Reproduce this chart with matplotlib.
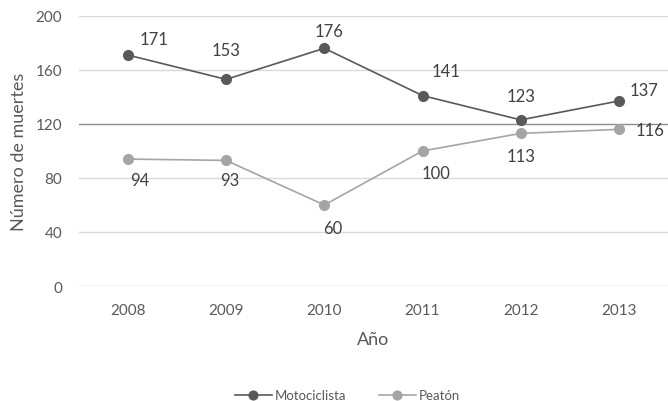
import matplotlib
matplotlib.use('Agg')
import matplotlib.pyplot as plt

# datos
years = ['2008', '2009', '2010', '2011', '2012', '2013']
moto = [171, 153, 176, 141, 123, 137]
peaton = [94, 93, 60, 100, 113, 116]
yticks = [0, 40, 80, 120, 160, 200]

# desplazamiento de etiquetas (pixeles)
moto_off = [(26, 16), (0, 29), (5, 17), (24, 25), (0, 24), (25, 11)]
peaton_off = [(12, -21), (4, -20), (8, -23), (14, -22), (0, -23), (31, -1)]

plt.rcParams['font.family'] = ['Lato', 'DejaVu Sans']

fig = plt.figure(figsize=(6.68, 4.02), dpi=100)
ax = fig.add_axes([0.118, 0.286, 0.882, 0.672])

x = list(range(len(years)))
ax.plot(x, moto, color='#595959', lw=1.2, marker='o', ms=7, label='Motociclista', zorder=3)
ax.plot(x, peaton, color='#a5a5a5', lw=1.2, marker='o', ms=7, label='Peatón', zorder=3)

for i, v in enumerate(moto):
    ax.annotate(str(v), (x[i], v), xytext=moto_off[i], textcoords='offset pixels',
                ha='center', va='center', fontsize=12, color='#404040')
for i, v in enumerate(peaton):
    ax.annotate(str(v), (x[i], v), xytext=peaton_off[i], textcoords='offset pixels',
                ha='center', va='center', fontsize=12, color='#404040')

ax.set_xlim(-0.5, len(years) - 0.5)
ax.set_ylim(0, 200)
ax.set_yticks(yticks)
ax.set_xticks(x)
ax.set_xticklabels(years)
for t in yticks:
    c = '#8c8c8c' if t == 120 else '#d9d9d9'
    ax.axhline(t, color=c, lw=1, zorder=1)
for s in ax.spines.values():
    s.set_visible(False)
ax.tick_params(length=0, labelsize=11, labelcolor='#595959')
ax.tick_params(axis='y', pad=12)
ax.tick_params(axis='x', pad=12)

ax.set_xlabel('Año', fontsize=13, color='#595959', labelpad=10)
ax.set_ylabel('Número de muertes', fontsize=13, color='#595959', labelpad=6)

fig.legend(loc='lower center', bbox_to_anchor=(0.52, -0.03), ncol=2, frameon=False,
           fontsize=9.5, labelcolor='#595959', handlelength=2.8, columnspacing=2.5,
           handletextpad=0.2, markerscale=0.9)

fig.savefig('out.png', dpi=100)
